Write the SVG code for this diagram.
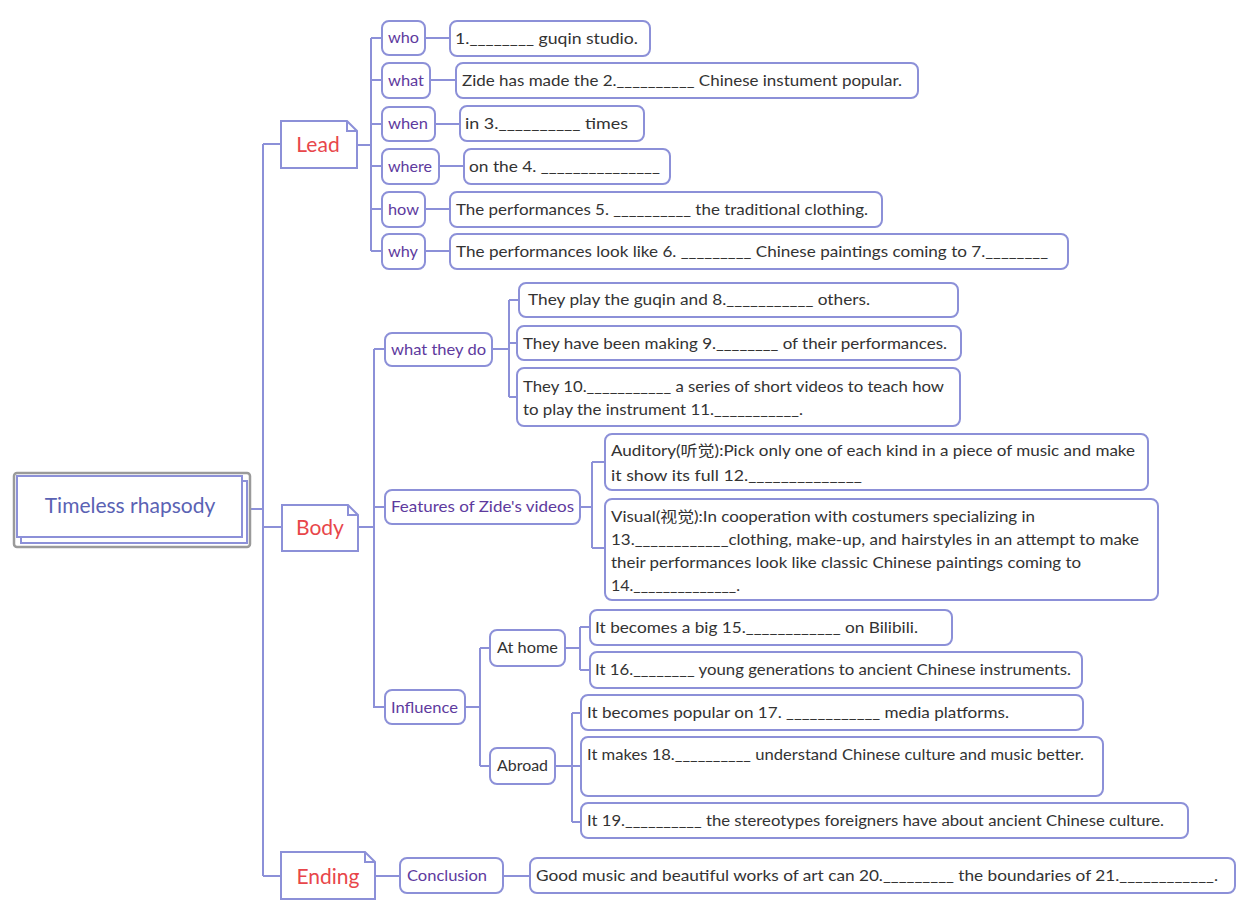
<svg xmlns="http://www.w3.org/2000/svg" width="1250" height="907" viewBox="0 0 1250 907">
<style>
.bx{fill:#fff;stroke:#8c90d8;stroke-width:2}
.ln{fill:none;stroke:#8c90d8;stroke-width:2}
.t{font-family:Lato,"Liberation Sans","Noto Sans CJK SC",sans-serif;font-size:15px;fill:#333}
.lb{font-family:Lato,"Liberation Sans",sans-serif;font-size:15px;fill:#5e3a9e}
.cat{font-family:Lato,"Liberation Sans",sans-serif;font-size:21px;fill:#e8464a;text-anchor:middle}
.root{font-family:Lato,"Liberation Sans",sans-serif;font-size:21px;fill:#5a62b4;text-anchor:middle}
</style>
<rect width="1250" height="907" fill="#fff"/>
<g id="connectors" class="ln">
<path d="M250 509H263M263 144V876M263 144H281M263 527H282M263 876H281"/>
<path d="M357 145H371M371 38V251M371 38H382M371 80H382M371 124H382M371 166H382M371 209H382M371 251H382"/>
<path d="M425 38H450M430 80H456M435 124H460M439 166H464M425 209H450M425 251H450"/>
<path d="M358 527H374M374 349V708M374 349H385M374 507H385M374 707H385"/>
<path d="M492 349H509M509 300V397M509 300H519M509 343H517M509 397H517"/>
<path d="M580 507H592M592 462V548M592 462H605M592 548H605"/>
<path d="M465 707H480M480 648V766M480 648H490M480 766H490"/>
<path d="M565 648H580M580 627V670M580 627H590M580 670H590"/>
<path d="M555 766H572M572 713V822M572 713H581M572 766H581M572 822H581"/>
<path d="M375 876H400M503 876H530"/>
</g>
<g id="root">
<rect x="14" y="473" width="236" height="74" rx="3" fill="#fff" stroke="#9a9a9a" stroke-width="2.5"/>
<rect x="21" y="481" width="226" height="62" class="bx"/>
<rect x="17" y="476" width="225" height="61" class="bx"/>
<text x="130" y="513" class="root">Timeless rhapsody</text>
</g>
<g id="lead">
<path d="M281 121H347L357 131V168H281Z" class="bx"/>
<path d="M347 121V131H357" class="ln"/>
<text x="318" y="152" class="cat">Lead</text>
</g>
<g id="body">
<path d="M282 505H348L358 515V551H282Z" class="bx"/>
<path d="M348 505V515H358" class="ln"/>
<text x="320" y="535" class="cat">Body</text>
</g>
<g id="ending">
<path d="M281 852H365L375 862V899H281Z" class="bx"/>
<path d="M365 852V862H375" class="ln"/>
<text x="328" y="884" class="cat">Ending</text>
</g>
<g id="who"><rect x="382" y="21" width="43" height="34" rx="7" class="bx"/><text x="388" y="43" class="lb" textLength="31" lengthAdjust="spacingAndGlyphs">who</text></g>
<g id="what"><rect x="382" y="63" width="48" height="35" rx="7" class="bx"/><text x="388" y="86" class="lb" textLength="36" lengthAdjust="spacingAndGlyphs">what</text></g>
<g id="when"><rect x="382" y="107" width="53" height="34" rx="7" class="bx"/><text x="388" y="129" class="lb" textLength="40" lengthAdjust="spacingAndGlyphs">when</text></g>
<g id="where"><rect x="382" y="149" width="57" height="35" rx="7" class="bx"/><text x="388" y="172" class="lb" textLength="44" lengthAdjust="spacingAndGlyphs">where</text></g>
<g id="how"><rect x="382" y="192" width="43" height="35" rx="7" class="bx"/><text x="388" y="215" class="lb" textLength="31" lengthAdjust="spacingAndGlyphs">how</text></g>
<g id="why"><rect x="382" y="234" width="43" height="35" rx="7" class="bx"/><text x="388" y="257" class="lb" textLength="30" lengthAdjust="spacingAndGlyphs">why</text></g>
<g id="l1"><rect x="450" y="21" width="200" height="35" rx="7" class="bx"/><text x="455" y="44" class="t" textLength="183" lengthAdjust="spacingAndGlyphs">1.________ guqin studio.</text></g>
<g id="l2"><rect x="456" y="63" width="462" height="35" rx="7" class="bx"/><text x="462" y="86" class="t" textLength="440" lengthAdjust="spacingAndGlyphs">Zide has made the 2.__________ Chinese instument popular.</text></g>
<g id="l3"><rect x="460" y="106" width="184" height="35" rx="7" class="bx"/><text x="465" y="129" class="t" textLength="163" lengthAdjust="spacingAndGlyphs">in 3.__________ times</text></g>
<g id="l4"><rect x="464" y="149" width="206" height="35" rx="7" class="bx"/><text x="469" y="172" class="t" textLength="191" lengthAdjust="spacingAndGlyphs">on the 4. _______________</text></g>
<g id="l5"><rect x="450" y="192" width="432" height="35" rx="7" class="bx"/><text x="456" y="215" class="t" textLength="412" lengthAdjust="spacingAndGlyphs">The performances 5. __________ the traditional clothing.</text></g>
<g id="l6"><rect x="450" y="234" width="618" height="35" rx="7" class="bx"/><text x="456" y="257" class="t" textLength="592" lengthAdjust="spacingAndGlyphs">The performances look like 6. _________ Chinese paintings coming to 7.________</text></g>
<g id="whattheydo"><rect x="385" y="333" width="107" height="33" rx="7" class="bx"/><text x="391" y="355" class="lb" textLength="95" lengthAdjust="spacingAndGlyphs">what they do</text></g>
<g id="features"><rect x="385" y="490" width="195" height="34" rx="7" class="bx"/><text x="391" y="512" class="lb" textLength="183" lengthAdjust="spacingAndGlyphs">Features of Zide's videos</text></g>
<g id="influence"><rect x="385" y="690" width="80" height="34" rx="7" class="bx"/><text x="391" y="713" class="lb" textLength="67" lengthAdjust="spacingAndGlyphs">Influence</text></g>
<g id="l8"><rect x="519" y="283" width="439" height="34" rx="7" class="bx"/><text x="528" y="305" class="t" textLength="342" lengthAdjust="spacingAndGlyphs">They play the guqin and 8.___________ others.</text></g>
<g id="l9"><rect x="517" y="326" width="444" height="34" rx="7" class="bx"/><text x="523" y="349" class="t" textLength="424" lengthAdjust="spacingAndGlyphs">They have been making 9.________ of their performances.</text></g>
<g id="l10"><rect x="517" y="368" width="443" height="58" rx="7" class="bx"/><text x="523" y="392" class="t" textLength="421" lengthAdjust="spacingAndGlyphs">They 10.___________ a series of short videos to teach how</text><text x="523" y="415" class="t" textLength="280" lengthAdjust="spacingAndGlyphs">to play the instrument 11.___________.</text></g>
<g id="l12"><rect x="605" y="434" width="543" height="56" rx="7" class="bx"/><text x="611" y="456" class="t" textLength="524" lengthAdjust="spacingAndGlyphs">Auditory(听觉):Pick only one of each kind in a piece of music and make</text><text x="611" y="481" class="t" textLength="251" lengthAdjust="spacingAndGlyphs">it show its full 12.______________</text></g>
<g id="l13"><rect x="605" y="499" width="553" height="101" rx="7" class="bx"/><text x="611" y="522" class="t" textLength="424" lengthAdjust="spacingAndGlyphs">Visual(视觉):In cooperation with costumers specializing in</text><text x="611" y="545" class="t" textLength="528" lengthAdjust="spacingAndGlyphs">13.____________clothing, make-up, and hairstyles in an attempt to make</text><text x="611" y="568" class="t" textLength="470" lengthAdjust="spacingAndGlyphs">their performances look like classic Chinese paintings coming to</text><text x="611" y="591" class="t" textLength="129" lengthAdjust="spacingAndGlyphs">14.______________.</text></g>
<g id="athome"><rect x="490" y="630" width="75" height="36" rx="7" class="bx"/><text x="497" y="653" class="t" textLength="61" lengthAdjust="spacingAndGlyphs">At home</text></g>
<g id="abroad"><rect x="490" y="748" width="65" height="36" rx="7" class="bx"/><text x="497" y="771" class="t" textLength="51" lengthAdjust="spacingAndGlyphs">Abroad</text></g>
<g id="l15"><rect x="590" y="610" width="362" height="35" rx="7" class="bx"/><text x="595" y="633" class="t" textLength="323" lengthAdjust="spacingAndGlyphs">It becomes a big 15.____________ on Bilibili.</text></g>
<g id="l16"><rect x="590" y="652" width="492" height="36" rx="7" class="bx"/><text x="595" y="675" class="t" textLength="476" lengthAdjust="spacingAndGlyphs">It 16.________ young generations to ancient Chinese instruments.</text></g>
<g id="l17"><rect x="581" y="695" width="502" height="35" rx="7" class="bx"/><text x="587" y="718" class="t" textLength="422" lengthAdjust="spacingAndGlyphs">It becomes popular on 17. ____________ media platforms.</text></g>
<g id="l18"><rect x="581" y="737" width="522" height="59" rx="7" class="bx"/><text x="587" y="760" class="t" textLength="497" lengthAdjust="spacingAndGlyphs">It makes 18.__________ understand Chinese culture and music better.</text></g>
<g id="l19"><rect x="581" y="803" width="607" height="35" rx="7" class="bx"/><text x="587" y="826" class="t" textLength="577" lengthAdjust="spacingAndGlyphs">It 19.__________ the stereotypes foreigners have about ancient Chinese culture.</text></g>
<g id="conclusion"><rect x="400" y="858" width="103" height="35" rx="7" class="bx"/><text x="407" y="881" class="lb" textLength="80" lengthAdjust="spacingAndGlyphs">Conclusion</text></g>
<g id="l21"><rect x="530" y="858" width="705" height="35" rx="7" class="bx"/><text x="536" y="881" class="t" textLength="682" lengthAdjust="spacingAndGlyphs">Good music and beautiful works of art can 20._________ the boundaries of 21.____________.</text></g>
</svg>
